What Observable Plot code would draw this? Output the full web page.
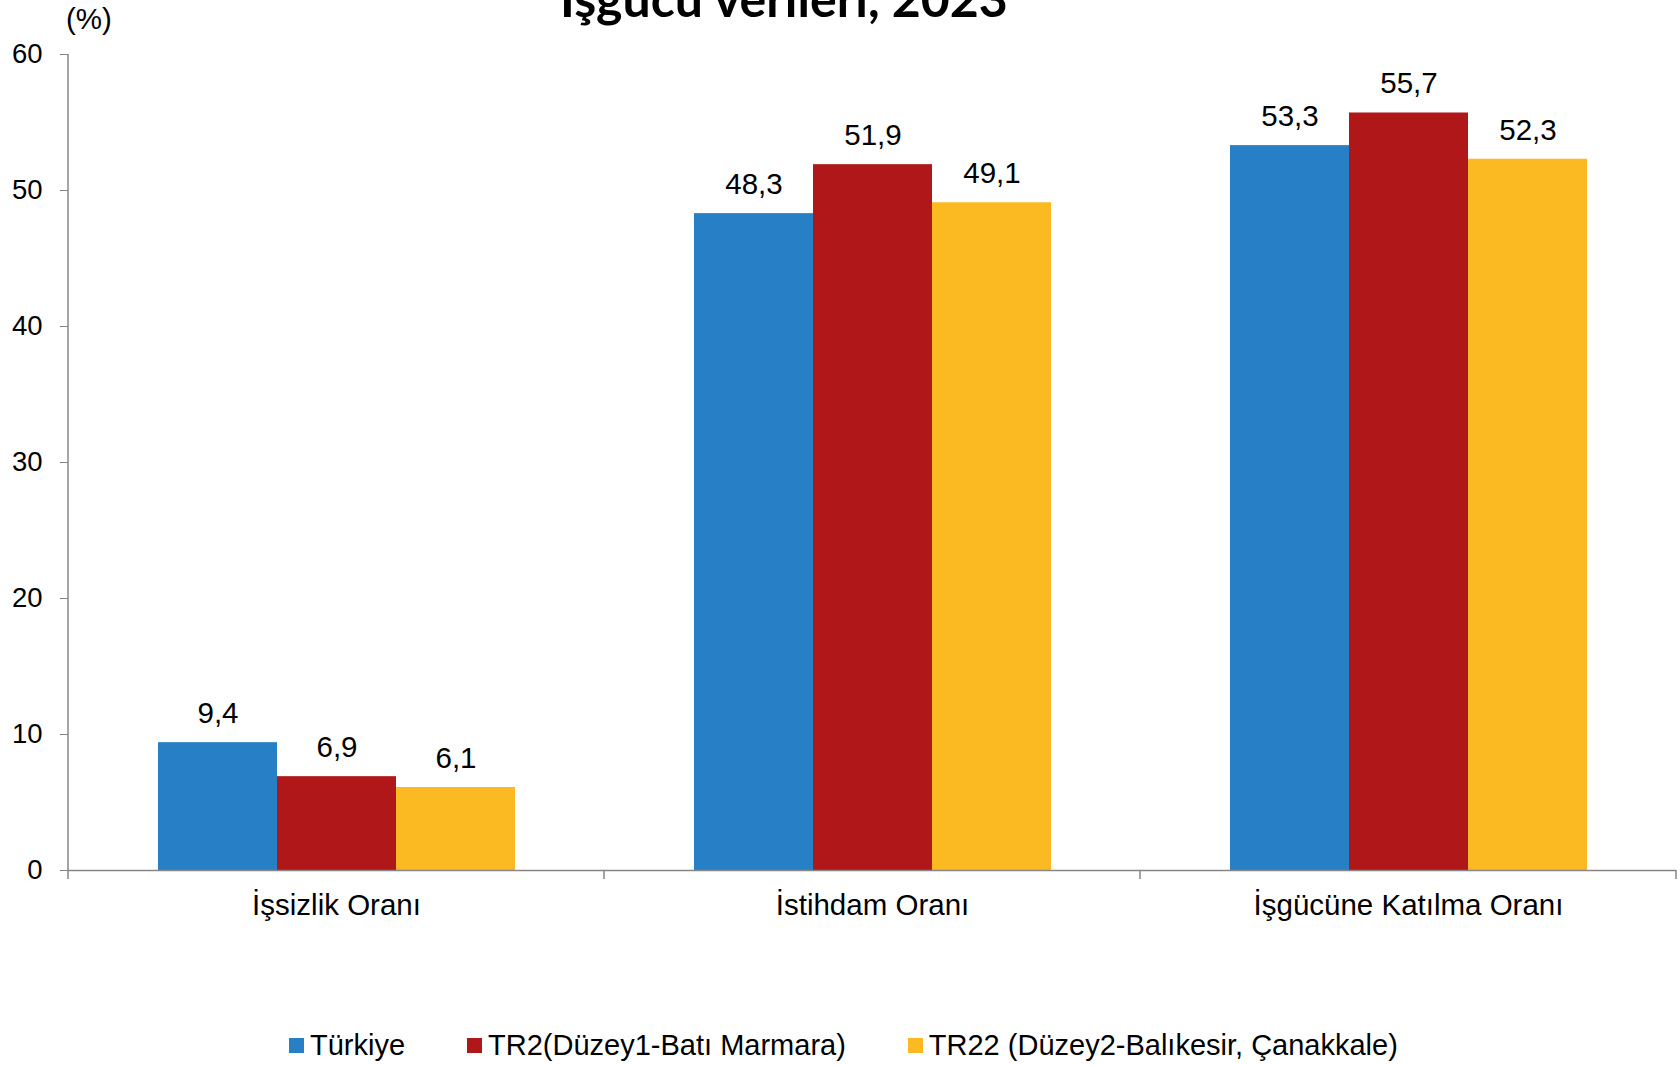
<!DOCTYPE html>
<html>
<head>
<meta charset="utf-8">
<script src="https://cdn.jsdelivr.net/npm/d3@7"></script>
<script src="https://cdn.jsdelivr.net/npm/@observablehq/plot@0.6"></script>
<style>
  html, body { margin: 0; padding: 0; background: #fff; }
  #wrap { position: relative; width: 1680px; height: 1065px; overflow: hidden; font-family: "Liberation Sans", Arial, sans-serif; color: #000; }
  #title { position: absolute; left: 0; width: 1568px; top: -27px; text-align: center; font-family: Lato, "Open Sans", sans-serif; font-weight: 700; font-size: 50px; line-height: 50px; white-space: nowrap; }
  #unit { position: absolute; left: 66px; top: 3px; font-size: 29.5px; line-height: 32px; }
  #chart { position: absolute; left: 0; top: 0; }
  #legend { position: absolute; left: 289px; top: 1027px; display: flex; align-items: center; font-size: 29px; line-height: 36px; white-space: nowrap; }
  .item { display: flex; align-items: center; margin-right: 62px; }
  .sw { width: 15px; height: 15px; margin-right: 6px; }
</style>
</head>
<body>
<div id="wrap">
  <div id="chart"></div>
  <div id="title">İşgücü verileri, 2023</div>
  <div id="unit">(%)</div>
  <div id="legend"></div>
</div>
<script>
const categories = ["İşsizlik Oranı", "İstihdam Oranı", "İşgücüne Katılma Oranı"];
const series = ["Türkiye", "TR2(Düzey1-Batı Marmara)", "TR22 (Düzey2-Balıkesir, Çanakkale)"];
const turkiye = [9.4, 48.3, 53.3];
const tr2 = [6.9, 51.9, 55.7];
const tr22 = [6.1, 49.1, 52.3];
const colors = ["#2780C6", "#B01718", "#FBBA22"];
const yTicks = [0, 10, 20, 30, 40, 50, 60];

const seriesValues = [turkiye, tr2, tr22];
const data = [];
categories.forEach((c, i) => {
  series.forEach((s, j) => data.push({category: c, series: s, value: seriesValues[j][i]}));
});

const fmt = v => v.toFixed(1).replace(".", ",");

const chart = Plot.plot({
  width: 1680,
  height: 930,
  marginLeft: 67,
  marginRight: 3,
  marginTop: 54,
  marginBottom: 60,
  style: {fontFamily: "'Liberation Sans', Arial, sans-serif", fontSize: "28px", color: "#000", background: "transparent"},
  fx: {domain: categories, padding: 0, label: null},
  x: {domain: series, paddingInner: 0, paddingOuter: 0.74, axis: null},
  y: {domain: [0, 60], label: null},
  color: {domain: series, range: colors},
  marks: [
    Plot.barY(data, {fx: "category", x: "series", y: "value", fill: "series", style: "filter: drop-shadow(2px 1px 1.5px rgba(0,0,0,0.25))"}),
    Plot.ruleY([0], {stroke: "#868686", strokeWidth: 1.5}),
    Plot.text(data, {fx: "category", x: "series", y: "value", text: d => fmt(d.value), dy: -29, fill: "#000", fontSize: 29.5}),
    Plot.axisY({ticks: yTicks, tickSize: 8, tickPadding: 18, stroke: "#868686", fill: "#000", label: null, fontSize: 27.5}),
    Plot.axisFx({anchor: "bottom", tickSize: 0, tickPadding: 24, label: null, fill: "#000", fontSize: 29.5})
  ]
});
document.getElementById("chart").appendChild(chart);

// axis line and category boundary ticks from the library's scales
const fx = chart.scale("fx");
const ys = chart.scale("y");
const svg = d3.select(chart);
const x0 = fx.apply(categories[0]);
const y0 = ys.apply(0);
const g = svg.append("g").attr("stroke", "#868686").attr("stroke-width", 1.5);
g.append("line").attr("x1", x0).attr("x2", x0).attr("y1", ys.apply(60)).attr("y2", y0);
const bounds = categories.map(c => fx.apply(c)).concat([fx.apply(categories[categories.length - 1]) + fx.bandwidth]);
bounds.forEach(b => g.append("line").attr("x1", b).attr("x2", b).attr("y1", y0).attr("y2", y0 + 9));

const legend = document.getElementById("legend");
series.forEach((s, i) => {
  const it = document.createElement("div");
  it.className = "item";
  const sw = document.createElement("div");
  sw.className = "sw";
  sw.style.background = colors[i];
  const t = document.createElement("span");
  t.textContent = s;
  it.appendChild(sw);
  it.appendChild(t);
  legend.appendChild(it);
});
</script>
</body>
</html>
